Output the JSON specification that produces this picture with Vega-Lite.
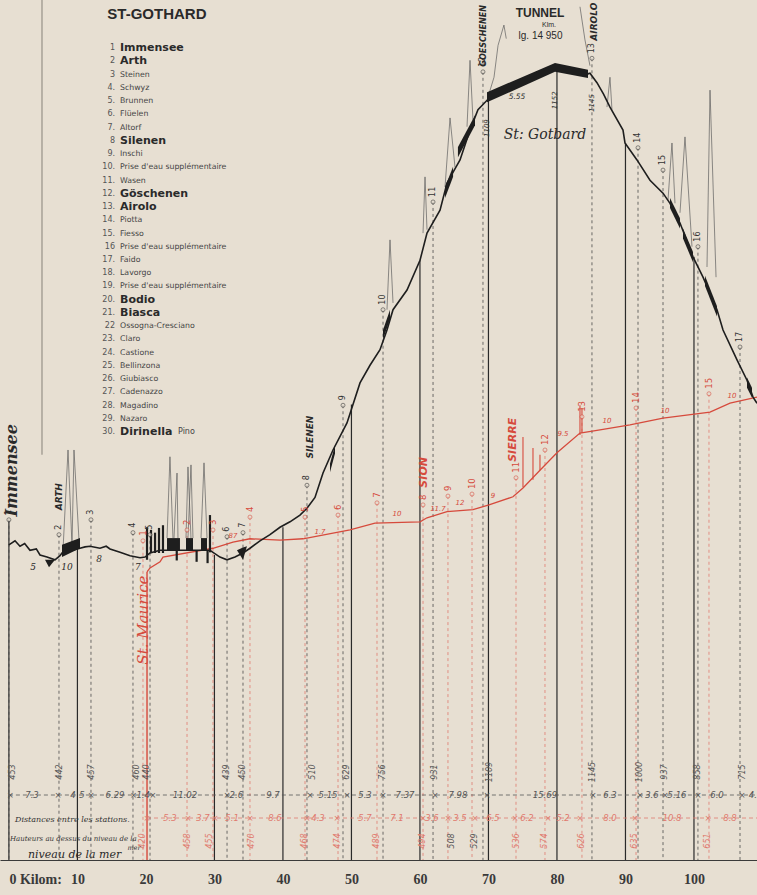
{
"$schema": "https://vega.github.io/schema/vega-lite/v6.json",
"width": 757,
"height": 860,
"autosize": {"type": "none"},
"padding": {"left": 0, "top": 0, "right": 0, "bottom": 35},
"background": "#e7dfd2",
"config": {"view": {"stroke": null}, "axis": {"grid": false}},
"datasets": {
"profile": [{"km":0,"alt":453},{"km":0.89,"alt":459},{"km":1.62,"alt":451},{"km":2.3,"alt":455},{"km":3.08,"alt":445},{"km":4.0,"alt":447},{"km":4.54,"alt":438},{"km":5.56,"alt":435},{"km":6.73,"alt":431},{"km":7.46,"alt":437},{"km":7.75,"alt":441},{"km":10.38,"alt":448},{"km":11.11,"alt":450},{"km":11.84,"alt":451},{"km":13.3,"alt":448},{"km":14.2,"alt":451},{"km":14.76,"alt":447},{"km":16.22,"alt":442},{"km":17.68,"alt":437},{"km":19.14,"alt":434},{"km":19.87,"alt":435},{"km":20.6,"alt":441},{"km":22.06,"alt":445},{"km":23.08,"alt":445},{"km":29.35,"alt":445},{"km":29.79,"alt":442},{"km":30.81,"alt":435},{"km":31.84,"alt":431},{"km":33.0,"alt":435},{"km":34.17,"alt":441},{"km":35.19,"alt":448},{"km":36.65,"alt":459},{"km":38.11,"alt":468},{"km":39.57,"alt":479},{"km":41.03,"alt":487},{"km":42.49,"alt":497},{"km":43.51,"alt":507},{"km":44.68,"alt":523},{"km":45.85,"alt":559},{"km":47.31,"alt":593},{"km":49.35,"alt":633},{"km":51.25,"alt":692},{"km":52.71,"alt":718},{"km":54.17,"alt":741},{"km":55.19,"alt":770},{"km":56.07,"alt":800},{"km":58.11,"alt":829},{"km":60.01,"alt":873},{"km":61.03,"alt":913},{"km":62.93,"alt":947},{"km":63.95,"alt":987},{"km":65.85,"alt":1021},{"km":67.31,"alt":1065},{"km":68.47,"alt":1095},{"km":69.79,"alt":1109},{"km":79.71,"alt":1157},{"km":84.53,"alt":1148},{"km":84.82,"alt":1149},{"km":85.84,"alt":1135},{"km":86.8,"alt":1118},{"km":87.74,"alt":1099},{"km":89.64,"alt":1065},{"km":89.93,"alt":1046},{"km":91.68,"alt":1021},{"km":93.58,"alt":991},{"km":95.48,"alt":972},{"km":96.5,"alt":957},{"km":97.96,"alt":928},{"km":99.86,"alt":878},{"km":101.32,"alt":848},{"km":103.36,"alt":800},{"km":104.24,"alt":770},{"km":106.28,"alt":726},{"km":107.74,"alt":696},{"km":108.62,"alt":671},{"km":109.2,"alt":662}],
"bands": [{"id":"B1","km":5.27,"top":431,"bot":431},{"id":"B1","km":5.85,"top":431,"bot":420},{"id":"B1","km":6.73,"top":431,"bot":431},
{"id":"B2","km":7.75,"top":453,"bot":435},{"id":"B2","km":10.38,"top":463,"bot":448},
{"id":"B3","km":23.08,"top":463,"bot":445},{"id":"B3","km":24.97,"top":463,"bot":445},
{"id":"B4","km":25.85,"top":463,"bot":445},{"id":"B4","km":26.87,"top":463,"bot":445},
{"id":"B5","km":28.04,"top":463,"bot":445},{"id":"B5","km":28.92,"top":463,"bot":445},
{"id":"B6","km":33.29,"top":445,"bot":445},{"id":"B6","km":34.17,"top":449,"bot":431},{"id":"B6","km":34.75,"top":451,"bot":451},
{"id":"B7","km":46.87,"top":573,"bot":560},{"id":"B7","km":47.6,"top":600,"bot":588},
{"id":"B8","km":54.61,"top":770,"bot":756},{"id":"B8","km":55.63,"top":800,"bot":786},
{"id":"B9","km":63.66,"top":981,"bot":965},{"id":"B9","km":64.83,"top":1011,"bot":996},
{"id":"B10","km":65.55,"top":1040,"bot":1025},{"id":"B10","km":68.04,"top":1087,"bot":1072},
{"id":"B11","km":69.79,"top":1121,"bot":1106},{"id":"B11","km":79.71,"top":1164,"bot":1151},{"id":"B11","km":84.53,"top":1154,"bot":1142},
{"id":"B12","km":96.5,"top":965,"bot":950},{"id":"B12","km":97.96,"top":935,"bot":920},
{"id":"B13","km":98.4,"top":920,"bot":905},{"id":"B13","km":99.86,"top":885,"bot":870},
{"id":"B14","km":101.61,"top":850,"bot":835},{"id":"B14","km":103.36,"top":805,"bot":790},
{"id":"B15","km":107.74,"top":700,"bot":685},{"id":"B15","km":108.47,"top":685,"bot":670}],
"bars": [{"km":20.16,"top":479,"bot":431},{"km":20.74,"top":475,"bot":441},{"km":21.33,"top":471,"bot":441},{"km":21.91,"top":478,"bot":441},{"km":22.49,"top":482,"bot":441},{"km":29.35,"top":497,"bot":442},{"km":24.5,"top":445,"bot":430},{"km":27.4,"top":445,"bot":428},{"km":29.0,"top":445,"bot":426}],
"peaks": [{"id":"P1","km":7.9,"alt":446},{"id":"P1","km":8.63,"alt":593},{"id":"P1","km":9.21,"alt":452},
{"id":"P2","km":9.21,"alt":452},{"id":"P2","km":9.5,"alt":593},{"id":"P2","km":10.23,"alt":460},
{"id":"P3","km":23.08,"alt":463},{"id":"P3","km":23.51,"alt":583},{"id":"P3","km":23.95,"alt":463},
{"id":"P4","km":24.1,"alt":463},{"id":"P4","km":24.54,"alt":559},{"id":"P4","km":24.68,"alt":463},
{"id":"P5","km":25.85,"alt":463},{"id":"P5","km":26.14,"alt":568},{"id":"P5","km":26.58,"alt":463},
{"id":"P6","km":26.14,"alt":463},{"id":"P6","km":26.58,"alt":571},{"id":"P6","km":26.87,"alt":463},
{"id":"P7","km":28.04,"alt":463},{"id":"P7","km":28.48,"alt":574},{"id":"P7","km":28.92,"alt":463},
{"id":"P8","km":55.19,"alt":800},{"id":"P8","km":55.63,"alt":903},{"id":"P8","km":56.07,"alt":810},
{"id":"P9","km":60.45,"alt":913},{"id":"P9","km":60.74,"alt":996},{"id":"P9","km":61.03,"alt":918},
{"id":"P10","km":63.66,"alt":981},{"id":"P10","km":64.39,"alt":1083},{"id":"P10","km":65.12,"alt":1010},
{"id":"P11","km":66.87,"alt":1070},{"id":"P11","km":67.31,"alt":1168},{"id":"P11","km":67.74,"alt":1080},
{"id":"P12","km":87.3,"alt":1099},{"id":"P12","km":87.74,"alt":1143},{"id":"P12","km":88.03,"alt":1095},
{"id":"P13","km":96.21,"alt":962},{"id":"P13","km":96.79,"alt":1046},{"id":"P13","km":97.23,"alt":957},
{"id":"P14","km":97.96,"alt":943},{"id":"P14","km":98.69,"alt":1055},{"id":"P14","km":99.71,"alt":893},
{"id":"P15","km":101.9,"alt":863},{"id":"P15","km":102.34,"alt":1124},{"id":"P15","km":103.22,"alt":848},
{"id":"M1","km":69.79,"alt":1109},{"id":"M1","km":70.81,"alt":1143},{"id":"M1","km":71.4,"alt":1190},{"id":"M1","km":72.26,"alt":1220},{"id":"M1","km":72.6,"alt":1200},
{"id":"M2","km":83.36,"alt":1247},{"id":"M2","km":84.09,"alt":1198},{"id":"M2","km":84.82,"alt":1160}],
"red": [{"km":20.16,"alt":413},{"km":20.6,"alt":419},{"km":22.06,"alt":428},{"km":22.49,"alt":435},{"km":29.79,"alt":448},{"km":32.71,"alt":457},{"km":35.19,"alt":462},{"km":39.57,"alt":460},{"km":42.93,"alt":462},{"km":49.79,"alt":475},{"km":53.43,"alt":485},{"km":60.01,"alt":487},{"km":61.03,"alt":493},{"km":63.95,"alt":502},{"km":67.74,"alt":505},{"km":70.08,"alt":512},{"km":73.58,"alt":524},{"km":75.04,"alt":537},{"km":77.52,"alt":563},{"km":80.0,"alt":589},{"km":83.36,"alt":618},{"km":85.84,"alt":622},{"km":90.66,"alt":630},{"km":95.48,"alt":640},{"km":102.34,"alt":649},{"km":105.26,"alt":662},{"km":109.2,"alt":671}],
"redspikes": [{"km":75.04,"top":612,"bot":538},{"km":76.5,"top":596,"bot":549},{"km":77.52,"top":586,"bot":563},{"km":83.36,"top":659,"bot":615},{"km":83.65,"top":655,"bot":618}],
"kmrules": [{"km":0,"top":490},{"km":10,"top":448},{"km":30,"top":438},{"km":40,"top":479},{"km":50,"top":660},{"km":60,"top":873},{"km":70,"top":1109},{"km":80,"top":1157},{"km":90,"top":1046},{"km":100,"top":878}],
"stations": [{"km":0,"alt":490,"n":"1"},{"km":7.31,"alt":468,"n":"2"},{"km":11.98,"alt":490,"n":"3"},{"km":18.11,"alt":471,"n":"4"},{"km":20.6,"alt":468,"n":"5"},{"km":31.84,"alt":465,"n":"6"},{"km":34.17,"alt":471,"n":"7"},{"km":43.51,"alt":541,"n":"8"},{"km":48.77,"alt":659,"n":"9"},{"km":54.61,"alt":800,"n":"10"},{"km":61.91,"alt":959,"n":"11"},{"km":69.2,"alt":1151,"n":"12"},{"km":85.11,"alt":1171,"n":"13"},{"km":91.83,"alt":1039,"n":"14"},{"km":95.48,"alt":1006,"n":"15"},{"km":100.58,"alt":893,"n":"16"},{"km":106.72,"alt":745,"n":"17"}],
"redstations": [{"km":19.57,"alt":459,"n":"1"},{"km":26.0,"alt":475,"n":"2"},{"km":29.79,"alt":475,"n":"3"},{"km":35.19,"alt":494,"n":"4"},{"km":43.22,"alt":494,"n":"5"},{"km":48.04,"alt":497,"n":"6"},{"km":53.73,"alt":515,"n":"7"},{"km":60.45,"alt":512,"n":"8"},{"km":64.09,"alt":525,"n":"9"},{"km":67.6,"alt":528,"n":"10"},{"km":74.02,"alt":552,"n":"11"},{"km":78.25,"alt":593,"n":"12"},{"km":83.65,"alt":642,"n":"13"},{"km":91.54,"alt":655,"n":"14"},{"km":102.19,"alt":676,"n":"15"}],
"tabalt": [{"km":0.6,"row":1,"t":"453","line":"G"},{"km":7.46,"row":1,"t":"442","line":"G"},{"km":12.13,"row":1,"t":"457","line":"G"},{"km":18.7,"row":1,"t":"460","line":"G"},{"km":20.16,"row":1,"t":"440","line":"G"},{"km":31.84,"row":1,"t":"439","line":"G"},{"km":34.17,"row":1,"t":"450","line":"G"},{"km":44.39,"row":1,"t":"510","line":"G"},{"km":49.35,"row":1,"t":"629","line":"G"},{"km":54.61,"row":1,"t":"756","line":"G"},{"km":62.2,"row":1,"t":"931","line":"G"},{"km":70.23,"row":1,"t":"1109","line":"G"},{"km":85.26,"row":1,"t":"1145","line":"G"},{"km":92.12,"row":1,"t":"1000","line":"G"},{"km":95.77,"row":1,"t":"937","line":"G"},{"km":100.58,"row":1,"t":"858","line":"G"},{"km":107.16,"row":1,"t":"715","line":"G"},
{"km":19.57,"row":4,"t":"420","line":"S"},{"km":26.14,"row":4,"t":"458","line":"S"},{"km":29.35,"row":4,"t":"455","line":"S"},{"km":35.48,"row":4,"t":"470","line":"S"},{"km":43.22,"row":4,"t":"468","line":"S"},{"km":48.04,"row":4,"t":"474","line":"S"},{"km":53.73,"row":4,"t":"489","line":"S"},{"km":60.45,"row":4,"t":"494","line":"S"},{"km":64.68,"row":4,"t":"508","line":"G"},{"km":68.04,"row":4,"t":"529","line":"G"},{"km":74.17,"row":4,"t":"536","line":"S"},{"km":78.25,"row":4,"t":"574","line":"S"},{"km":83.65,"row":4,"t":"626","line":"S"},{"km":91.39,"row":4,"t":"635","line":"S"},{"km":102.05,"row":4,"t":"651","line":"S"}],
"tabdist": [{"km":3.37,"row":2,"t":"7.3","line":"G"},{"km":9.36,"row":2,"t":"4","line":"G"},{"km":10.67,"row":2,"t":"5","line":"G"},{"km":15.49,"row":2,"t":"6.29","line":"G"},{"km":19.6,"row":2,"t":"1.4","line":"G"},{"km":25.7,"row":2,"t":"11.02","line":"G"},{"km":33.2,"row":2,"t":"2.6","line":"G"},{"km":38.55,"row":2,"t":"9.7","line":"G"},{"km":46.58,"row":2,"t":"5.15","line":"G"},{"km":51.98,"row":2,"t":"5.3","line":"G"},{"km":57.82,"row":2,"t":"7.37","line":"G"},{"km":65.55,"row":2,"t":"7.98","line":"G"},{"km":78.25,"row":2,"t":"15.69","line":"G"},{"km":87.74,"row":2,"t":"6.3","line":"G"},{"km":93.87,"row":2,"t":"3.6","line":"G"},{"km":97.52,"row":2,"t":"5.16","line":"G"},{"km":103.36,"row":2,"t":"6.0","line":"G"},{"km":108.6,"row":2,"t":"4.","line":"G"},
{"km":0.2,"row":2,"t":"×","line":"G"},{"km":7.17,"row":2,"t":"×","line":"G"},{"km":11.98,"row":2,"t":"×","line":"G"},{"km":18.2,"row":2,"t":"×","line":"G"},{"km":21.0,"row":2,"t":"×","line":"G"},{"km":31.84,"row":2,"t":"×","line":"G"},{"km":43.95,"row":2,"t":"×","line":"G"},{"km":49.35,"row":2,"t":"×","line":"G"},{"km":54.61,"row":2,"t":"×","line":"G"},{"km":62.2,"row":2,"t":"×","line":"G"},{"km":69.79,"row":2,"t":"×","line":"G"},{"km":85.26,"row":2,"t":"×","line":"G"},{"km":92.12,"row":2,"t":"×","line":"G"},{"km":95.77,"row":2,"t":"×","line":"G"},{"km":100.58,"row":2,"t":"×","line":"G"},{"km":107.01,"row":2,"t":"×","line":"G"},
{"km":23.51,"row":3,"t":"5.3","line":"S"},{"km":28.33,"row":3,"t":"3.7","line":"S"},{"km":32.57,"row":3,"t":"5.1","line":"S"},{"km":38.84,"row":3,"t":"8.6","line":"S"},{"km":45.12,"row":3,"t":"4.3","line":"S"},{"km":51.98,"row":3,"t":"5.7","line":"S"},{"km":56.65,"row":3,"t":"7.1","line":"S"},{"km":61.76,"row":3,"t":"3.6","line":"S"},{"km":65.85,"row":3,"t":"3.5","line":"S"},{"km":70.66,"row":3,"t":"6.5","line":"S"},{"km":75.62,"row":3,"t":"6.2","line":"S"},{"km":80.88,"row":3,"t":"5.2","line":"S"},{"km":87.74,"row":3,"t":"8.0","line":"S"},{"km":96.79,"row":3,"t":"10.8","line":"S"},{"km":105.26,"row":3,"t":"8.8","line":"S"},
{"km":20.16,"row":3,"t":"×","line":"S"},{"km":26.14,"row":3,"t":"×","line":"S"},{"km":30.08,"row":3,"t":"×","line":"S"},{"km":35.19,"row":3,"t":"×","line":"S"},{"km":43.51,"row":3,"t":"×","line":"S"},{"km":47.89,"row":3,"t":"×","line":"S"},{"km":60.45,"row":3,"t":"×","line":"S"},{"km":64.09,"row":3,"t":"×","line":"S"},{"km":68.04,"row":3,"t":"×","line":"S"},{"km":73.87,"row":3,"t":"×","line":"S"},{"km":78.69,"row":3,"t":"×","line":"S"},{"km":83.36,"row":3,"t":"×","line":"S"},{"km":91.39,"row":3,"t":"×","line":"S"},{"km":102.05,"row":3,"t":"×","line":"S"}],
"tabrules": [{"km":0,"km2":109.2,"row":2,"line":"G"},{"km":20.16,"km2":109.2,"row":3,"line":"S"}],
"legend": [{"n":1,"num":"1","name":"Immensee","major":true},{"n":2,"num":"2","name":"Arth","major":true},{"n":3,"num":"3","name":"Steinen","major":false},{"n":4,"num":"4.","name":"Schwyz","major":false},{"n":5,"num":"5.","name":"Brunnen","major":false},{"n":6,"num":"6.","name":"Flüelen","major":false},{"n":7,"num":"7.","name":"Altorf","major":false},{"n":8,"num":"8","name":"Silenen","major":true},{"n":9,"num":"9.","name":"Inschi","major":false},{"n":10,"num":"10.","name":"Prise d'eau supplémentaire","major":false},{"n":11,"num":"11.","name":"Wasen","major":false},{"n":12,"num":"12.","name":"Göschenen","major":true},{"n":13,"num":"13.","name":"Airolo","major":true},{"n":14,"num":"14.","name":"Piotta","major":false},{"n":15,"num":"15.","name":"Fiesso","major":false},{"n":16,"num":"16","name":"Prise d'eau supplémentaire","major":false},{"n":17,"num":"17.","name":"Faido","major":false},{"n":18,"num":"18.","name":"Lavorgo","major":false},{"n":19,"num":"19.","name":"Prise d'eau supplémentaire","major":false},{"n":20,"num":"20.","name":"Bodio","major":true},{"n":21,"num":"21.","name":"Biasca","major":true},{"n":22,"num":"22","name":"Ossogna-Cresciano","major":false},{"n":23,"num":"23.","name":"Claro","major":false},{"n":24,"num":"24.","name":"Castione","major":false},{"n":25,"num":"25.","name":"Bellinzona","major":false},{"n":26,"num":"26.","name":"Giubiasco","major":false},{"n":27,"num":"27.","name":"Cadenazzo","major":false},{"n":28,"num":"28.","name":"Magadino","major":false},{"n":29,"num":"29.","name":"Nazaro","major":false},{"n":30,"num":"30.","name":"Dirinella","major":true}]
},
"layer": [
{
"layer": [
{"data": {"name": "kmrules"}, "mark": {"type": "rule", "color": "#2a2a2a", "strokeWidth": 1.2},
 "encoding": {
  "x": {"field": "km", "type": "quantitative", "scale": {"domain": [-1.3, 109.2], "nice": false, "zero": false},
   "axis": {"values": [0,10,20,30,40,50,60,70,80,90,100], "title": null, "grid": false, "ticks": false, "domain": true, "domainColor": "#3a3a3a", "domainWidth": 1.2, "labelFont": "Liberation Serif", "labelFontSize": 14, "labelFontWeight": "bold", "labelColor": "#3a3a3a", "labelPadding": 12, "labelFlush": false, "labelOverlap": false, "labelExpr": "datum.value === 0 ? '0 Kilom:' : datum.label", "labelAlign": {"condition": {"test": "datum.value === 0", "value": "left"}, "value": "center"}}},
  "y": {"field": "top", "type": "quantitative", "scale": {"domain": [-12, 1257], "nice": false, "zero": false}, "axis": null},
  "y2": {"datum": -12}}},
{"data": {"values": [{"km": 20.16, "top": 413}]}, "mark": {"type": "rule", "color": "#d64a3c", "strokeWidth": 1.4},
 "encoding": {"x": {"field": "km", "type": "quantitative"}, "y": {"field": "top", "type": "quantitative"}, "y2": {"datum": -12}}},
{"data": {"values": [{"km": 4.83, "top": 1257, "bot": 586}]}, "mark": {"type": "rule", "color": "#6f6a62", "strokeWidth": 0.8},
 "encoding": {"x": {"field": "km", "type": "quantitative"}, "y": {"field": "top", "type": "quantitative"}, "y2": {"field": "bot"}}},
{"data": {"name": "stations"}, "mark": {"type": "rule", "color": "#4a4a4a", "strokeWidth": 0.8, "strokeDash": [3, 3]},
 "encoding": {"x": {"field": "km", "type": "quantitative"}, "y": {"field": "alt", "type": "quantitative"}, "y2": {"datum": -12}}},
{"data": {"name": "redstations"}, "mark": {"type": "rule", "color": "#e07a6e", "strokeWidth": 0.8, "strokeDash": [3, 3]},
 "encoding": {"x": {"field": "km", "type": "quantitative"}, "y": {"field": "alt", "type": "quantitative"}, "y2": {"datum": -12}}},
{"data": {"name": "peaks"}, "mark": {"type": "line", "color": "#5e5e5e", "strokeWidth": 0.7},
 "encoding": {"x": {"field": "km", "type": "quantitative"}, "y": {"field": "alt", "type": "quantitative"}, "detail": {"field": "id"}, "order": {"field": "km"}}},
{"data": {"name": "red"}, "mark": {"type": "line", "color": "#d64a3c", "strokeWidth": 1.3},
 "encoding": {"x": {"field": "km", "type": "quantitative"}, "y": {"field": "alt", "type": "quantitative"}}},
{"data": {"name": "redspikes"}, "mark": {"type": "rule", "color": "#d64a3c", "strokeWidth": 1.1},
 "encoding": {"x": {"field": "km", "type": "quantitative"}, "y": {"field": "top", "type": "quantitative"}, "y2": {"field": "bot"}}},
{"data": {"name": "profile"}, "mark": {"type": "line", "color": "#1e1e1e", "strokeWidth": 1.6},
 "encoding": {"x": {"field": "km", "type": "quantitative"}, "y": {"field": "alt", "type": "quantitative"}}},
{"data": {"name": "bands"}, "mark": {"type": "area", "color": "#1e1e1e", "opacity": 1},
 "encoding": {"x": {"field": "km", "type": "quantitative"}, "y": {"field": "top", "type": "quantitative"}, "y2": {"field": "bot"}, "detail": {"field": "id"}}},
{"data": {"name": "bars"}, "mark": {"type": "rule", "color": "#1e1e1e", "strokeWidth": 2.2},
 "encoding": {"x": {"field": "km", "type": "quantitative"}, "y": {"field": "top", "type": "quantitative"}, "y2": {"field": "bot"}}},
{"data": {"name": "stations"}, "mark": {"type": "point", "shape": "circle", "filled": true, "fill": "#e7dfd2", "stroke": "#333", "strokeWidth": 0.8, "size": 16},
 "encoding": {"x": {"field": "km", "type": "quantitative"}, "y": {"field": "alt", "type": "quantitative"}}},
{"data": {"name": "redstations"}, "mark": {"type": "point", "shape": "circle", "filled": true, "fill": "#e7dfd2", "stroke": "#d64a3c", "strokeWidth": 0.8, "size": 16},
 "encoding": {"x": {"field": "km", "type": "quantitative"}, "y": {"field": "alt", "type": "quantitative"}}},
{"data": {"name": "stations"}, "mark": {"type": "text", "angle": 270, "align": "left", "baseline": "middle", "dx": 5, "fontSize": 8, "font": "DejaVu Sans", "color": "#333"},
 "encoding": {"x": {"field": "km", "type": "quantitative"}, "y": {"field": "alt", "type": "quantitative"}, "text": {"field": "n"}}},
{"data": {"name": "redstations"}, "mark": {"type": "text", "angle": 270, "align": "left", "baseline": "middle", "dx": 5, "fontSize": 8.5, "font": "DejaVu Sans", "color": "#d64a3c"},
 "encoding": {"x": {"field": "km", "type": "quantitative"}, "y": {"field": "alt", "type": "quantitative"}, "text": {"field": "n"}}},
{"data": {"values": [{"km": 0.45, "alt": 563, "t": "Immensee"}]}, "mark": {"type": "text", "angle": 270, "align": "center", "baseline": "middle", "fontSize": 16, "font": "DejaVu Serif", "fontStyle": "italic", "fontWeight": "bold", "color": "#2a2a2a"},
 "encoding": {"x": {"field": "km", "type": "quantitative"}, "y": {"field": "alt", "type": "quantitative"}, "text": {"field": "t"}}},
{"data": {"values": [{"km": 7.31, "alt": 524, "t": "ARTH"}, {"km": 43.95, "alt": 612, "t": "SILENEN"}, {"km": 85.4, "alt": 1225, "t": "AIROLO"}]},
 "mark": {"type": "text", "angle": 270, "align": "center", "baseline": "middle", "fontSize": 9, "font": "DejaVu Sans", "fontStyle": "italic", "fontWeight": "bold", "color": "#2a2a2a"},
 "encoding": {"x": {"field": "km", "type": "quantitative"}, "y": {"field": "alt", "type": "quantitative"}, "text": {"field": "t"}}},
{"data": {"values": [{"km": 69.35, "alt": 1204, "t": "GOESCHENEN"}]},
 "mark": {"type": "text", "angle": 270, "align": "center", "baseline": "middle", "fontSize": 8, "font": "DejaVu Sans", "fontStyle": "italic", "fontWeight": "bold", "color": "#2a2a2a"},
 "encoding": {"x": {"field": "km", "type": "quantitative"}, "y": {"field": "alt", "type": "quantitative"}, "text": {"field": "t"}}},
{"data": {"values": [{"km": 19.57, "alt": 342, "t": "St. Maurice"}]}, "mark": {"type": "text", "angle": 270, "align": "center", "baseline": "middle", "fontSize": 15, "font": "DejaVu Serif", "fontStyle": "italic", "color": "#d64a3c"},
 "encoding": {"x": {"field": "km", "type": "quantitative"}, "y": {"field": "alt", "type": "quantitative"}, "text": {"field": "t"}}},
{"data": {"values": [{"km": 60.6, "alt": 560, "t": "SION"}, {"km": 73.58, "alt": 608, "t": "SIERRE"}]}, "mark": {"type": "text", "angle": 270, "align": "center", "baseline": "middle", "fontSize": 11, "font": "DejaVu Sans", "fontStyle": "italic", "fontWeight": "bold", "color": "#d64a3c"},
 "encoding": {"x": {"field": "km", "type": "quantitative"}, "y": {"field": "alt", "type": "quantitative"}, "text": {"field": "t"}}},
{"data": {"values": [{"km": 77.52, "alt": 1238, "t": "TUNNEL"}]}, "mark": {"type": "text", "align": "center", "baseline": "middle", "fontSize": 12, "font": "Liberation Sans Narrow, Liberation Sans", "fontWeight": "bold", "color": "#2a2a2a"},
 "encoding": {"x": {"field": "km", "type": "quantitative"}, "y": {"field": "alt", "type": "quantitative"}, "text": {"field": "t"}}},
{"data": {"values": [{"km": 78.84, "alt": 1220, "t": "Klm."}]}, "mark": {"type": "text", "align": "center", "baseline": "middle", "fontSize": 7, "font": "Liberation Sans", "color": "#2a2a2a"},
 "encoding": {"x": {"field": "km", "type": "quantitative"}, "y": {"field": "alt", "type": "quantitative"}, "text": {"field": "t"}}},
{"data": {"values": [{"km": 77.6, "alt": 1204, "t": "lg. 14 950"}]}, "mark": {"type": "text", "align": "center", "baseline": "middle", "fontSize": 10, "font": "Liberation Sans", "color": "#2a2a2a"},
 "encoding": {"x": {"field": "km", "type": "quantitative"}, "y": {"field": "alt", "type": "quantitative"}, "text": {"field": "t"}}},
{"data": {"values": [{"km": 78.25, "alt": 1058, "t": "St: Gotbard"}]}, "mark": {"type": "text", "align": "center", "baseline": "middle", "fontSize": 14, "font": "DejaVu Serif", "fontStyle": "italic", "color": "#2a2a2a"},
 "encoding": {"x": {"field": "km", "type": "quantitative"}, "y": {"field": "alt", "type": "quantitative"}, "text": {"field": "t"}}},
{"data": {"values": [{"km": 69.79, "alt": 1068, "t": "1109"}, {"km": 79.71, "alt": 1109, "t": "1152"}, {"km": 85.11, "alt": 1105, "t": "1145"}]}, "mark": {"type": "text", "angle": 270, "align": "center", "baseline": "middle", "fontSize": 7, "font": "DejaVu Sans", "fontStyle": "italic", "color": "#333"},
 "encoding": {"x": {"field": "km", "type": "quantitative"}, "y": {"field": "alt", "type": "quantitative"}, "text": {"field": "t"}}},
{"data": {"values": [{"km": 74.17, "alt": 1114, "t": "5.55"}]}, "mark": {"type": "text", "align": "center", "baseline": "middle", "fontSize": 7.5, "font": "DejaVu Sans", "fontStyle": "italic", "color": "#333"},
 "encoding": {"x": {"field": "km", "type": "quantitative"}, "y": {"field": "alt", "type": "quantitative"}, "text": {"field": "t"}}},
{"data": {"values": [{"km": 3.52, "alt": 420, "t": "5"}, {"km": 8.48, "alt": 420, "t": "10"}, {"km": 13.15, "alt": 432, "t": "8"}, {"km": 18.84, "alt": 420, "t": "7"}]}, "mark": {"type": "text", "align": "center", "baseline": "middle", "fontSize": 9, "font": "DejaVu Serif", "fontStyle": "italic", "color": "#2a2a2a"},
 "encoding": {"x": {"field": "km", "type": "quantitative"}, "y": {"field": "alt", "type": "quantitative"}, "text": {"field": "t"}}},
{"data": {"values": [{"km": 45.41, "alt": 468, "t": "1.7"}, {"km": 32.71, "alt": 462, "t": "87"}, {"km": 56.65, "alt": 494, "t": "10"}, {"km": 62.63, "alt": 502, "t": "11.7"}, {"km": 65.85, "alt": 511, "t": "12"}, {"km": 70.66, "alt": 520, "t": "9"}, {"km": 80.88, "alt": 612, "t": "9.5"}, {"km": 87.3, "alt": 632, "t": "10"}, {"km": 95.77, "alt": 646, "t": "10"}, {"km": 105.55, "alt": 668, "t": "10"}]},
 "mark": {"type": "text", "align": "center", "baseline": "bottom", "fontSize": 7, "font": "DejaVu Sans", "fontStyle": "italic", "color": "#d64a3c"},
 "encoding": {"x": {"field": "km", "type": "quantitative"}, "y": {"field": "alt", "type": "quantitative"}, "text": {"field": "t"}}},
{"data": {"values": [{"t": "ST-GOTHARD"}]}, "mark": {"type": "text", "align": "center", "baseline": "middle", "fontSize": 15, "font": "Liberation Sans Narrow, Liberation Sans", "fontWeight": "bold", "color": "#2a2a2a"},
 "encoding": {"x": {"datum": 21.6}, "y": {"datum": 1236}, "text": {"field": "t"}}}
]
},
{
"layer": [
{"data": {"name": "tabrules"}, "mark": {"type": "rule", "strokeWidth": 0.8, "strokeDash": [4, 3]},
 "encoding": {"x": {"field": "km", "type": "quantitative"}, "x2": {"field": "km2"},
  "y": {"field": "row", "type": "quantitative", "scale": {"domain": [1, 4], "range": [772, 841]}, "axis": null},
  "color": {"field": "line", "type": "nominal", "scale": {"domain": ["G", "S"], "range": ["#555555", "#e07a6e"]}, "legend": null}}},
{"data": {"name": "tabalt"}, "mark": {"type": "text", "angle": 270, "align": "center", "baseline": "middle", "fontSize": 8, "font": "DejaVu Sans", "fontStyle": "italic"},
 "encoding": {"x": {"field": "km", "type": "quantitative"}, "y": {"field": "row", "type": "quantitative"}, "text": {"field": "t"},
  "color": {"field": "line", "type": "nominal", "scale": {"domain": ["G", "S"], "range": ["#333333", "#d64a3c"]}, "legend": null}}},
{"data": {"name": "tabdist"}, "mark": {"type": "text", "align": "center", "baseline": "middle", "fontSize": 8.5, "font": "DejaVu Sans", "fontStyle": "italic"},
 "encoding": {"x": {"field": "km", "type": "quantitative"}, "y": {"field": "row", "type": "quantitative"}, "text": {"field": "t"},
  "color": {"field": "line", "type": "nominal", "legend": null}}},
{"data": {"values": [{"km": 0.89, "row": 3.1, "t": "Distances entre les stations."}]}, "mark": {"type": "text", "align": "left", "baseline": "middle", "fontSize": 8, "font": "DejaVu Serif", "fontStyle": "italic", "color": "#333"},
 "encoding": {"x": {"field": "km", "type": "quantitative"}, "y": {"field": "row", "type": "quantitative"}, "text": {"field": "t"}}},
{"data": {"values": [{"km": 0.16, "row": 3.9, "t": "Hauteurs au dessus du niveau de la"}]}, "mark": {"type": "text", "align": "left", "baseline": "middle", "fontSize": 7, "font": "DejaVu Serif", "fontStyle": "italic", "color": "#333"},
 "encoding": {"x": {"field": "km", "type": "quantitative"}, "y": {"field": "row", "type": "quantitative"}, "text": {"field": "t"}}},
{"data": {"values": [{"km": 17.3, "row": 4.3, "t": "mer"}]}, "mark": {"type": "text", "align": "left", "baseline": "middle", "fontSize": 6.5, "font": "DejaVu Serif", "fontStyle": "italic", "color": "#333"},
 "encoding": {"x": {"field": "km", "type": "quantitative"}, "y": {"field": "row", "type": "quantitative"}, "text": {"field": "t"}}},
{"data": {"values": [{"km": 2.79, "row": 4.72, "t": "niveau de la mer"}]}, "mark": {"type": "text", "align": "left", "baseline": "alphabetic", "fontSize": 11, "font": "DejaVu Serif", "fontStyle": "italic", "color": "#2a2a2a"},
 "encoding": {"x": {"field": "km", "type": "quantitative"}, "y": {"field": "row", "type": "quantitative"}, "text": {"field": "t"}}}
]
},
{
"data": {"name": "legend"},
"layer": [
{"mark": {"type": "text", "align": "right", "baseline": "middle", "fontSize": 8, "font": "DejaVu Sans", "color": "#555"},
 "encoding": {"x": {"datum": 15.49}, "y": {"field": "n", "type": "quantitative", "scale": {"domain": [1, 30], "range": [35, 432]}, "axis": null}, "text": {"field": "num"}}},
{"transform": [{"filter": "datum.major"}], "mark": {"type": "text", "align": "left", "baseline": "middle", "fontSize": 11, "font": "DejaVu Sans", "fontWeight": "bold", "color": "#2a2a2a"},
 "encoding": {"x": {"datum": 16.22}, "y": {"field": "n", "type": "quantitative"}, "text": {"field": "name"}}},
{"transform": [{"filter": "!datum.major"}], "mark": {"type": "text", "align": "left", "baseline": "middle", "fontSize": 7.8, "font": "DejaVu Sans", "color": "#444"},
 "encoding": {"x": {"datum": 16.22}, "y": {"field": "n", "type": "quantitative"}, "text": {"field": "name"}}},
{"data": {"values": [{"n": 30, "t": "Pino"}]}, "mark": {"type": "text", "align": "left", "baseline": "middle", "fontSize": 8, "font": "DejaVu Sans", "color": "#444"},
 "encoding": {"x": {"datum": 24.68}, "y": {"field": "n", "type": "quantitative"}, "text": {"field": "t"}}}
]
}
],
"resolve": {"scale": {"y": "independent"}}
}
